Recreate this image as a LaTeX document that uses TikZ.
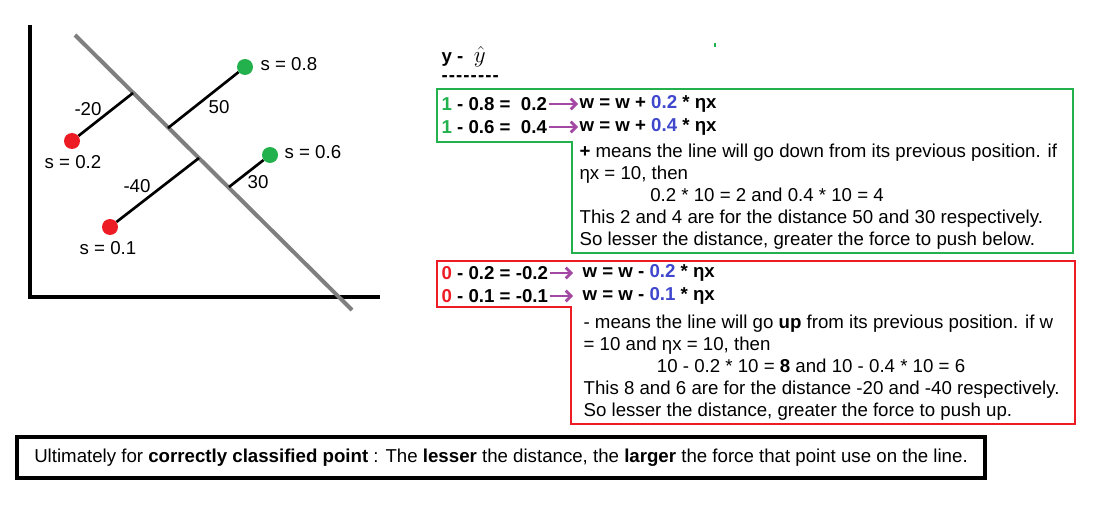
\documentclass[tikz,border=0pt]{standalone}
\usepackage{fontspec}
\setmainfont{Liberation Sans}
\usepackage{tikz}
\usetikzlibrary{arrows.meta,positioning,calc}
\usepackage{xcolor}
\definecolor{ptgreen}{RGB}{34,177,76}
\definecolor{ptred}{RGB}{237,28,36}
\definecolor{ptpurple}{RGB}{163,73,164}
\definecolor{ptblue}{RGB}{63,72,204}
\definecolor{ptgray}{RGB}{127,127,127}

\begin{document}
\begin{tikzpicture}[x=0.75pt, y=-0.75pt, every node/.style={font=\fontsize{14}{16.5}\selectfont, inner sep=1pt}]
\tikzset{greenpt/.style={circle, fill=ptgreen, minimum size=12pt, inner sep=0pt}}
\tikzset{redpt/.style={circle, fill=ptred, minimum size=12pt, inner sep=0pt}}
\tikzset{dist/.style={line width=2pt}}
\tikzset{eqn/.style={anchor=west, font=\fontsize{14}{16}\selectfont\bfseries}}
\tikzset{parrow/.style={draw=ptpurple, line width=2pt, -{Straight Barb[length=4pt,width=8pt]}}}
\tikzset{para/.style={anchor=north west, align=left}}
\useasboundingbox (0,0) rectangle (1098,506);
\draw[line width=3pt] (30,25) -- (30,297) -- (380,297);
\draw[ptgray, line width=3pt] (75,35) coordinate (l1) -- (352,310) coordinate (l2);
\node[redpt] (p2) at (72,141) {};
\node[redpt] (p1) at (110,227) {};
\node[greenpt] (p8) at (245,67) {};
\node[greenpt] (p6) at (270,155) {};
\coordinate (f2) at (133,93);
\coordinate (f1) at (199,158);
\coordinate (f8) at (168,128);
\coordinate (f6) at (229,187);
\draw[dist] (p2) -- (f2);
\draw[dist] (p1) -- (f1);
\draw[dist] (p8) -- (f8);
\draw[dist] (p6) -- (f6);
\node (d2) at (88,109) {-20};
\node (d1) at (137,186) {-40};
\node (d8) at (219,107) {50};
\node (d6) at (258,182) {30};
\node (s2) at (73,162) {s = 0.2};
\node (s1) at (108,248) {s = 0.1};
\node[anchor=west] (s8) at (259,64) {s = 0.8};
\node[anchor=west] (s6) at (283,152) {s = 0.6};
\fill[ptgreen] (714,43) rectangle (716,47);
\node[anchor=west] (yy) at (440,57) {\textbf{y -}\ \ {\fontsize{17}{18}\selectfont$\hat{y}$}};
\node[anchor=west] (dd) at (440,79) {\textbf{-\kern.8pt-\kern.8pt-\kern.8pt-\kern.8pt-\kern.8pt-\kern.8pt-\kern.8pt-}};
\draw[ptgreen, line width=2.2pt] (437,89) -- (1073,89) -- (1073,253) -- (572,253) -- (572,142) -- (437,142) -- cycle;
\node[eqn] (g1) at (440,104) {\textcolor{ptgreen}{1} - 0.8 = \ 0.2};
\node[eqn] (g2) at (440,127) {\textcolor{ptgreen}{1} - 0.6 = \ 0.4};
\node[eqn] (gw1) at (578,104) {w = w + \textcolor{ptblue}{0.2} * ηx};
\node[eqn] (gw2) at (578,127) {w = w + \textcolor{ptblue}{0.4} * ηx};
\draw[parrow] (g1) -- (gw1);
\draw[parrow] (g2) -- (gw2);
\node[para] (gp) at (578,142) {\textbf{+} means the line will go down from its previous position. if\\
ηx = 10, then\\
\hspace*{53pt}0.2 * 10 = 2 and 0.4 * 10 = 4\\
This 2 and 4 are for the distance 50 and 30 respectively.\\
So lesser the distance, greater the force to push below.};
\draw[ptred, line width=2.2pt] (437,261) -- (1075,261) -- (1075,424) -- (571,424) -- (571,307) -- (437,307) -- cycle;
\node[eqn] (r1) at (440,273) {\textcolor{ptred}{0} - 0.2 = -0.2};
\node[eqn] (r2) at (440,296) {\textcolor{ptred}{0} - 0.1 = -0.1};
\node[eqn] (rw1) at (581,273) {w = w - \textcolor{ptblue}{0.2} * ηx};
\node[eqn] (rw2) at (581,296) {w = w - \textcolor{ptblue}{0.1} * ηx};
\draw[parrow, shorten >=6pt] (r1) -- (rw1);
\draw[parrow, shorten >=6pt] (r2) -- (rw2);
\node[para] (rp) at (582,313) {- means the line will go \textbf{up} from its previous position. if w\\
= 10 and ηx = 10, then\\
\hspace*{55pt}10 - 0.2 * 10 = \textbf{8} and 10 - 0.4 * 10 = 6\\
This 8 and 6 are for the distance -20 and -40 respectively.\\
So lesser the distance, greater the force to push up.};
\node[draw, line width=3pt, minimum width=726pt, minimum height=30.75pt] (sum) at (501,457.5) {Ultimately for \textbf{correctly classified point} : The \textbf{lesser} the distance, the \textbf{larger} the force that point use on the line.};
\end{tikzpicture}
\end{document}
